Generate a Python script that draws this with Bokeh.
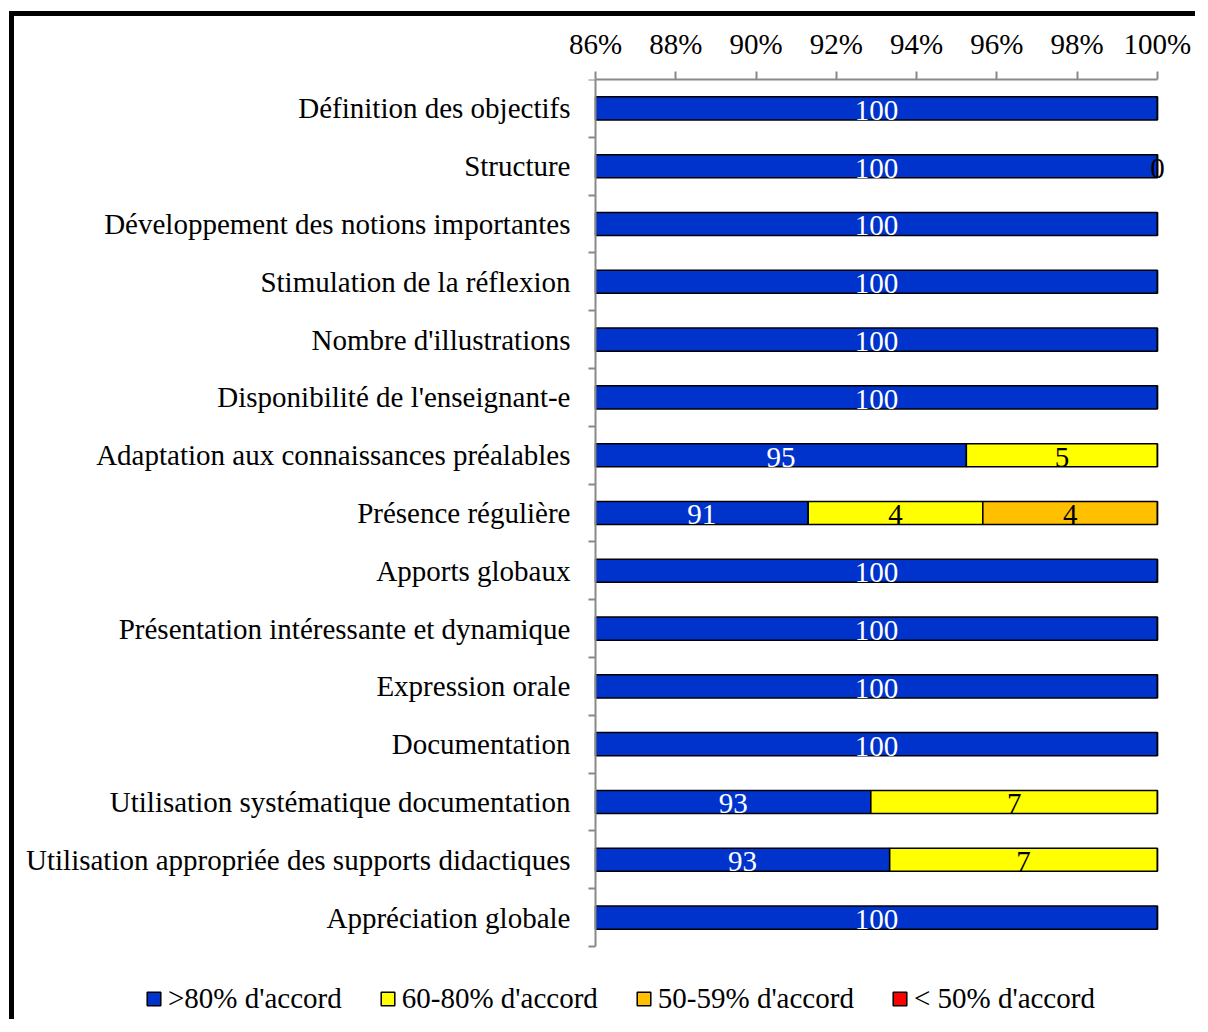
from bokeh.plotting import figure
from bokeh.models import (ColumnDataSource, Range1d, FixedTicker, PrintfTickFormatter,
                          Legend, LegendItem, LabelSet)
from bokeh.embed import file_html
from bokeh.resources import INLINE

categories = ["Définition des objectifs", "Structure", "Développement des notions importantes",
              "Stimulation de la réflexion", "Nombre d'illustrations", "Disponibilité de l'enseignant-e",
              "Adaptation aux connaissances préalables", "Présence régulière", "Apports globaux",
              "Présentation intéressante et dynamique", "Expression orale", "Documentation",
              "Utilisation systématique documentation", "Utilisation appropriée des supports didactiques",
              "Appréciation globale"]

accord_80 = [100, 100, 100, 100, 100, 100, 95.24, 91.30, 100, 100, 100, 100, 92.86, 93.33, 100]
accord_60_80 = [None, 0, None, None, None, None, 4.76, 4.35, None, None, None, None, 7.14, 6.67, None]
accord_50_59 = [None, None, None, None, None, None, None, 4.35, None, None, None, None, None, None, None]
accord_lt50 = [0] * 15

series_names = [">80% d'accord", "60-80% d'accord", "50-59% d'accord", "< 50% d'accord"]
series_values = [accord_80, accord_60_80, accord_50_59, accord_lt50]
series_colors = ["#0033CC", "#FFFF00", "#FFC000", "#FF0000"]
label_colors = ["white", "black", "black", None]

x_ticks = [86, 88, 90, 92, 94, 96, 98, 100]
X_START, X_END = 86, 100

FONT = "Liberation Serif"
FS = "29px"
GRAY = "#898989"

n = len(categories)
# frame spans the whole canvas width/height so that the legend is not clipped;
# axis bounds keep axis lines to the data area
p = figure(width=1186, height=1008, output_backend="svg", toolbar_location=None,
           x_range=Range1d(71.526, X_END + 0.5), y_range=Range1d(16.35, 0),
           x_axis_location="above",
           min_border_left=0, min_border_right=23, min_border_top=63, min_border_bottom=0)
p.styles = {"border-left": "5px solid black", "border-top": "5px solid black",
            "margin-left": "9px", "margin-top": "11px"}
p.outline_line_color = None
p.xgrid.visible = False
p.ygrid.visible = False

cum = [0.0] * n
legend_items = []
for name, vals, col, lcol in zip(series_names, series_values, series_colors, label_colors):
    ys, lefts, rights, lx, txt = [], [], [], [], []
    for i, v in enumerate(vals):
        if v is None:
            continue
        left = cum[i]
        right = cum[i] + v
        cum[i] = right
        ys.append(i + 0.5)
        lefts.append(max(left, X_START))
        rights.append(right)
        lx.append((max(left, X_START) + right) / 2)
        txt.append(str(int(round(v))))
    src = ColumnDataSource(dict(y=ys, left=lefts, right=rights, lx=lx, txt=txt))
    r = p.hbar(y="y", left="left", right="right", height=0.4, fill_color=col,
               line_color="black", line_width=1.5, source=src)
    legend_items.append(LegendItem(label=name, renderers=[r]))
    if lcol is not None:
        labels = LabelSet(x="lx", y="y", text="txt", source=src, text_align="center",
                          text_baseline="middle", text_color=lcol, text_font=FONT,
                          text_font_size=FS, y_offset=-2)
        p.add_layout(labels)

# x axis (top)
xa = p.xaxis[0]
xa.bounds = (X_START, X_END)
xa.ticker = FixedTicker(ticks=x_ticks)
xa.formatter = PrintfTickFormatter(format="%d%%")
xa.axis_line_color = GRAY
xa.axis_line_width = 2
xa.major_tick_line_color = GRAY
xa.major_tick_line_width = 2
xa.major_tick_out = 8
xa.major_tick_in = 0
xa.minor_tick_line_color = None
xa.major_label_text_font = FONT
xa.major_label_text_font_size = FS
xa.major_label_text_color = "black"
xa.major_label_standoff = 12

# y axis (left), drawn at 86%
ya = p.yaxis[0]
ya.fixed_location = X_START
ya.bounds = (0, n)
centers = [i + 0.5 for i in range(n)]
ya.ticker = FixedTicker(ticks=centers, minor_ticks=list(range(n + 1)))
ya.major_label_overrides = {c: name for c, name in zip(centers, categories)}
ya.axis_line_color = GRAY
ya.axis_line_width = 2
ya.major_tick_line_color = None
ya.major_tick_out = 0
ya.major_tick_in = 0
ya.minor_tick_line_color = GRAY
ya.minor_tick_line_width = 2
ya.minor_tick_out = 7
ya.minor_tick_in = 0
ya.major_label_text_font = FONT
ya.major_label_text_font_size = FS
ya.major_label_text_color = "black"
ya.major_label_standoff = 18

legend = Legend(items=legend_items, orientation="horizontal", location=(131, 9),
                label_text_font=FONT, label_text_font_size=FS, label_text_color="black",
                glyph_width=17, glyph_height=17,
                label_standoff=6, spacing=37, padding=4, border_line_color=None,
                background_fill_alpha=0)
p.add_layout(legend)

open("out.html", "w").write(file_html(p, INLINE))
